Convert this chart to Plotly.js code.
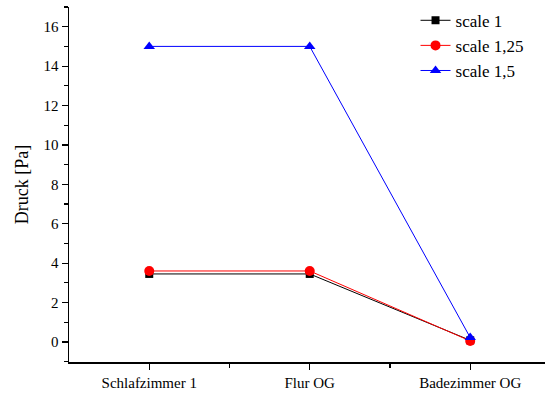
<!DOCTYPE html>
<html>
<head>
<meta charset="utf-8">
<script src="https://cdn.plot.ly/plotly-3.0.1.min.js"></script>
<style>html,body{margin:0;padding:0;background:#fff;}#chart{width:545px;height:394px;}</style>
</head>
<body>
<div id="chart"></div>
<script>
var categories = ["Schlafzimmer 1", "Flur OG", "Badezimmer OG"];
var seriesNames = ["scale 1", "scale 1,25", "scale 1,5"];
var scale1 = [3.45, 3.45, 0.08];
var scale125 = [3.6, 3.6, 0.05];
var scale15 = [15.0, 15.0, 0.22];
var yTicks = [0, 2, 4, 6, 8, 10, 12, 14, 16];

var idx = categories.map(function(c, i){ return i; });

function trace(name, y, color, symbol, size) {
  return {
    x: idx, y: y, name: name, type: 'scatter', mode: 'lines+markers',
    line: {color: color, width: 1},
    marker: {color: color, symbol: symbol, size: size}
  };
}

var data = [
  trace(seriesNames[0], scale1, '#000000', 'square', 8),
  trace(seriesNames[1], scale125, '#ff0000', 'circle', 10),
  trace(seriesNames[2], scale15, '#0000ff', 'triangle-up', 10)
];

var fam = 'Liberation Serif';
var font = {family: fam, size: 15, color: '#000'};

var layout = {
  width: 545, height: 394,
  margin: {l: 69, r: 0, t: 7, b: 32},
  paper_bgcolor: '#fff', plot_bgcolor: '#fff',
  font: font,
  showlegend: true,
  legend: {x: 0.728, y: 1.012, xanchor: 'left', yanchor: 'top', bgcolor: 'rgba(0,0,0,0)',
           font: {family: fam, size: 17, color: '#000'}, tracegroupgap: 0, itemwidth: 30},
  xaxis: {
    range: [-0.5, 2.466], tickmode: 'array', tickvals: idx, ticktext: categories,
    showgrid: false, zeroline: false, showline: true, linecolor: '#000', linewidth: 1.5,
    ticks: 'outside', ticklen: 6, tickwidth: 1.2, tickcolor: '#000',
    tickfont: {family: fam, size: 15, color: '#000'},
    minor: {tickmode: 'array', tickvals: [0.5, 1.5], ticks: 'outside', ticklen: 4, tickwidth: 1.2, tickcolor: '#000', showgrid: false},
    fixedrange: true
  },
  yaxis: {
    range: [-1.02, 17.0], tickmode: 'array', tickvals: yTicks,
    showgrid: false, zeroline: false, showline: true, linecolor: '#000', linewidth: 1.5,
    ticks: 'outside', ticklen: 6, tickwidth: 1.2, tickcolor: '#000',
    tickfont: {family: fam, size: 15, color: '#000'},
    title: {text: 'Druck [Pa]', font: {family: fam, size: 18, color: '#000'}, standoff: 10},
    minor: {tickmode: 'array', tickvals: [-1, 1, 3, 5, 7, 9, 11, 13, 15, 17], ticks: 'outside', ticklen: 4, tickwidth: 1.2, tickcolor: '#000', showgrid: false},
    fixedrange: true
  }
};

Plotly.newPlot('chart', data, layout, {displayModeBar: false, staticPlot: true});
</script>
</body>
</html>
